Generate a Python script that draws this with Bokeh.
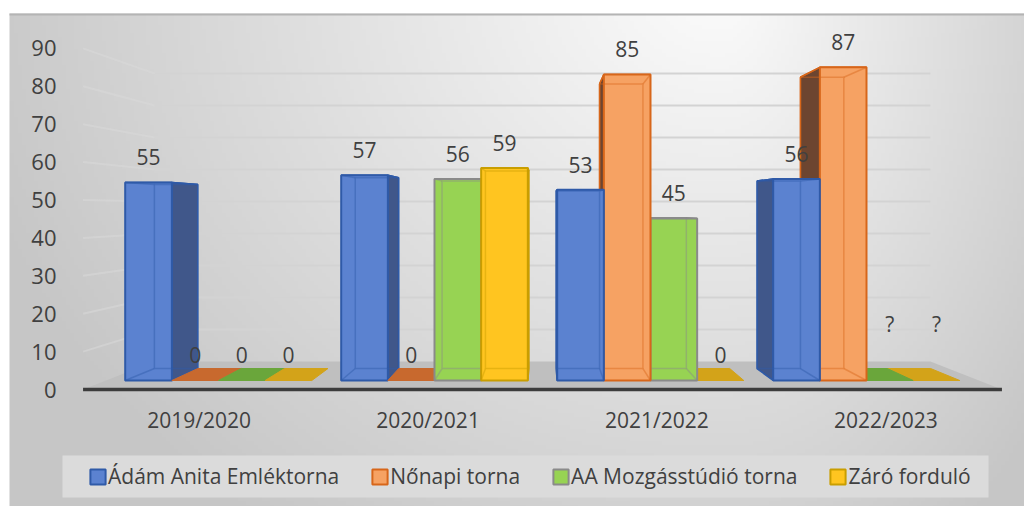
import numpy as np
from bokeh.plotting import figure
from bokeh.models import (Range1d, LinearAxis, FixedTicker, Legend, LegendItem,
                          BoxAnnotation)
from bokeh.core.properties import value
from bokeh.embed import file_html
from bokeh.resources import INLINE

# ---------------- data ----------------
categories = ["2019/2020", "2020/2021", "2021/2022", "2022/2023"]
series_names = ["Ádám Anita Emléktorna", "Nőnapi torna",
                "AA Mozgásstúdió torna", "Záró forduló"]
adam_anita = [55, 57, 53, 56]
nonapi = [0, 0, 85, 87]
mozgasstudio = [0, 56, 45, None]   # None -> "?"
zaro = [0, 59, 0, None]
y_ticks = [0, 10, 20, 30, 40, 50, 60, 70, 80, 90]

series_values = [adam_anita, nonapi, mozgasstudio, zaro]

# ---------------- style ----------------
FRONT = ["#5b82d0", "#f6a263", "#97d353", "#ffc520"]
EDGE = ["#2f5aa8", "#d7661a", "#8a8a8a", "#c99e00"]
SIDE = ["#40578a", "#6d4530", "#5d8a30", "#a07c00"]
TOP = ["#6f94dc", "#ffb87c", "#a8e068", "#ffd45a"]
TILE = ["#4a6fb8", "#c8692e", "#6aa63b", "#d3a319"]
TXT = "#404040"
FONT = value("Open Sans")

W, H = 1024, 506
OX, OY = 218.0, 380.0      # pixel position of group 0 / value 0 on the front plane
SXU, SYU = 216.0, 3.6      # pixels per group unit / per value unit
BW = 0.216                 # bar width in group units
VPX, VPY = 1.5, 47.5       # vanishing point (data units)
KB = 0.93                  # depth of bar back faces
KW = 0.889                 # depth of back wall
KF = 1.053                 # depth of floor front edge
KX = 1.06                  # depth of category labels
XL, XR = 1.5 - 2.02, 1.5 + 2.02   # floor / wall extent

x0, x1 = -OX / SXU, (W - OX) / SXU
y0, y1 = (OY - H) / SYU, OY / SYU


def px2x(px):
    return (px - OX) / SXU


def py2y(py):
    return (OY - py) / SYU


def proj(X, V, k):
    return VPX + (X - VPX) * k, VPY + (V - VPY) * k


def poly(pts):
    xs, ys = [], []
    for X, V, k in pts:
        a, b = proj(X, V, k)
        xs.append(a)
        ys.append(b)
    return xs, ys


p = figure(width=W, height=H, x_range=Range1d(x0, x1), y_range=Range1d(y0, y1),
           output_backend="svg", toolbar_location=None, min_border=0,
           x_axis_location=None, y_axis_location=None)
p.outline_line_color = None
p.background_fill_color = "white"
p.border_fill_color = "white"
p.grid.visible = False

# ---------------- background gradient ----------------
cell = 4
gx0, gy0, gx1, gy1 = 9, 13, 1025, 509
nx, ny = (gx1 - gx0) // cell, (gy1 - gy0) // cell
pxs = gx0 + (np.arange(nx) + 0.5) * cell
pys = gy1 - (np.arange(ny) + 0.5) * cell
PX, PY = np.meshgrid(pxs, pys)
cx, cy = 720.0, -20.0
ax = np.where(PX < cx, 780.0, 420.0)
f = np.minimum(np.sqrt(((PX - cx) / ax) ** 2 + ((PY - cy) / 680.0) ** 2), 1.0)
g = np.clip(252 - 54 * f, 0, 255).astype(np.uint32)
img = (255 << 24) | (g << 16) | (g << 8) | g
p.image_rgba(image=[img.astype(np.uint32)], x=px2x(gx0), y=py2y(gy1),
             dw=(gx1 - gx0) / SXU, dh=(gy1 - gy0) / SYU)
p.segment(x0=[px2x(9)], y0=[py2y(14)], x1=[px2x(1024)], y1=[py2y(14)],
          line_color="#b4b4b4", line_width=2)

# ---------------- floor and walls ----------------
fx, fy = poly([(XL, 0, KF), (XR, 0, KF), (XR, 0, KW), (XL, 0, KW)])
p.patch(fx, fy, fill_color="#bfbfbf", line_color=None)

back_xs, back_ys, side_xs, side_ys = [], [], [], []
for t in y_ticks[1:]:
    a, b = poly([(XL, t, KW), (XR, t, KW)])
    back_xs.append(a)
    back_ys.append(b)
    a, b = poly([(XL, t, KF), (XL, t, KW)])
    side_xs.append(a)
    side_ys.append(b)
p.multi_line(back_xs, back_ys, line_color="#d3d3d3", line_width=2)
p.multi_line(side_xs, side_ys, line_color="#d9d9d9", line_width=2, line_alpha=0.55)

lx_, ly_ = poly([(XL, 0, KF), (XR, 0, KF)])
p.line(lx_, ly_, line_color="#3c3c3c", line_width=3.5)

# ---------------- bars ----------------
bars = []
for i in range(len(categories)):
    for j in range(len(series_values)):
        L = i + (j - 2) * BW
        bars.append((abs(L + BW / 2 - VPX), i, j))
bars.sort(reverse=True)

legend_r = {}
lab_x, lab_y, lab_t = [], [], []
for _, i, j in bars:
    v = series_values[j][i]
    h = 0 if v is None else v
    L = i + (j - 2) * BW
    R = L + BW
    c = L + BW / 2
    if h > 0:
        xs, ys = poly([(L, h, 1), (R, h, 1), (R, h, KB), (L, h, KB)])
        p.patch(xs, ys, fill_color=TOP[j], line_color=EDGE[j], line_width=1.5)
        sx = R if c < VPX else L
        xs, ys = poly([(sx, 0, 1), (sx, h, 1), (sx, h, KB), (sx, 0, KB)])
        p.patch(xs, ys, fill_color=SIDE[j], line_color=EDGE[j], line_width=1.5)
        r = p.quad(left=[L], right=[R], bottom=[0], top=[h], fill_color=FRONT[j],
                   line_color=EDGE[j], line_width=2)
        if j not in legend_r:
            legend_r[j] = r
        bx, by = poly([(L, 0, KB), (R, 0, KB), (R, h, KB), (L, h, KB), (L, 0, KB)])
        p.line(bx, by, line_color=EDGE[j], line_width=1.5, line_alpha=0.45)
        dxs, dys = [], []
        for X, V in [(L, 0), (R, 0), (L, h), (R, h)]:
            a, b = poly([(X, V, 1), (X, V, KB)])
            dxs.append(a)
            dys.append(b)
        p.multi_line(dxs, dys, line_color=EDGE[j], line_width=1.5, line_alpha=0.45)
    else:
        xs, ys = poly([(L, 0, 1), (R, 0, 1), (R, 0, KB), (L, 0, KB)])
        p.patch(xs, ys, fill_color=TILE[j], line_color=TILE[j], line_width=1)
    lab_x.append(c)
    lab_y.append(h + 7 + (8.8 if v is None else 0))
    lab_t.append("?" if v is None else str(v))

p.text(x=lab_x, y=lab_y, text=lab_t, text_font=FONT, text_font_size="21px",
       text_color=TXT, text_align="center", text_baseline="middle")

# ---------------- axes ----------------
p.extra_y_ranges = {"yaxis": Range1d(VPY + (y0 - VPY) / KF, VPY + (y1 - VPY) / KF)}
p.extra_x_ranges = {"xaxis": Range1d(VPX + (x0 - VPX) / KX, VPX + (x1 - VPX) / KX)}

yax = LinearAxis(y_range_name="yaxis", ticker=FixedTicker(ticks=y_ticks),
                 fixed_location=px2x(68))
yax.axis_line_color = None
yax.major_tick_line_color = None
yax.minor_tick_line_color = None
yax.major_label_standoff = 6
yax.major_label_text_font = "Open Sans"
yax.major_label_text_font_size = "22px"
yax.major_label_text_color = TXT
p.add_layout(yax, "left")

xax = LinearAxis(x_range_name="xaxis",
                 ticker=FixedTicker(ticks=list(range(len(categories)))),
                 major_label_overrides={i: c for i, c in enumerate(categories)},
                 fixed_location=py2y(395))
xax.axis_line_color = None
xax.major_tick_line_color = None
xax.minor_tick_line_color = None
xax.major_label_standoff = 4
xax.major_label_text_font = "Open Sans"
xax.major_label_text_font_size = "21px"
xax.major_label_text_color = TXT
p.add_layout(xax, "below")

# ---------------- legend ----------------
p.add_layout(BoxAnnotation(left=px2x(62), right=px2x(988), top=py2y(455),
                           bottom=py2y(497), fill_color="#dbdbdb", fill_alpha=1,
                           line_color=None))
legend = Legend(items=[LegendItem(label=series_names[j], renderers=[legend_r[j]])
                       for j in range(len(series_names))],
                orientation="horizontal", location=(88, 16),
                background_fill_alpha=0, border_line_color=None,
                glyph_width=19, glyph_height=19, label_standoff=1, spacing=31,
                padding=0, margin=0,
                label_text_font="Open Sans", label_text_font_size="21px",
                label_text_color=TXT)
p.add_layout(legend, "center")

open("out.html", "w").write(file_html(p, INLINE))
